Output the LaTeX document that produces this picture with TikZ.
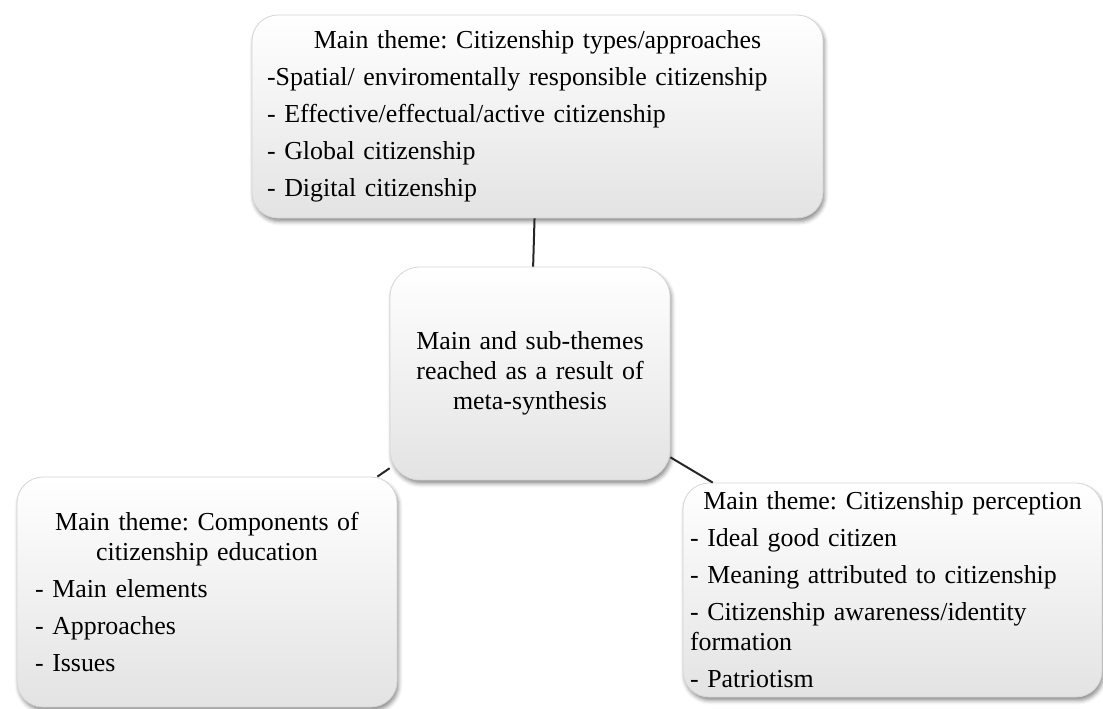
\documentclass[tikz,border=0pt]{standalone}
\usepackage{fontspec}
\setmainfont{Liberation Serif}
\usetikzlibrary{shadows.blur}
\frenchspacing

\begin{document}
\begin{tikzpicture}[x=0.5pt, y=-0.5pt,
		theme/.style={draw=black!16, rounded corners=13pt, top color=white, bottom color=black!11,
			blur shadow={shadow xshift=0.8pt, shadow yshift=-1.8pt, shadow blur radius=2pt, shadow opacity=45},
			font=\fontsize{12.95}{14.9}\selectfont, align=left, inner ysep=0pt,
			execute at begin node={\setlength{\parskip}{3.6pt}}},
		link/.style={line width=1pt, black!85}]
		% page frame
		\useasboundingbox (0,0) rectangle (1103,708);
		
		% the four theme boxes
		\node[theme, text width=270.5pt, inner xsep=7.5pt, minimum height=101.5pt] (types) at (537.5,116.5)
			{{\centering Main theme: Citizenship types/approaches\par}
			-Spatial/ enviromentally responsible citizenship\par
			- Effective/effectual/active citizenship\par
			- Global citizenship\par
			- Digital citizenship};
		\node[theme, align=center, rounded corners=15pt, text width=120pt, inner xsep=10pt, minimum height=106.5pt] (synth) at (530,373.5)
			{Main and sub-themes\\reached as a result of\\meta-synthesis};
		\node[theme, text width=172pt, inner xsep=9pt, minimum height=115pt] (components) at (207,592)
			{{\centering Main theme: Components of\\citizenship education\par}
			- Main elements\par
			- Approaches\par
			- Issues};
		\node[theme, text width=202.5pt, inner xsep=3.5pt, minimum height=107pt] (perception) at (892.5,590)
			{{\centering Main theme: Citizenship perception\par}
			- Ideal good citizen\par
			- Meaning attributed to citizenship\par
			- Citizenship awareness/identity\\formation\par
			- Patriotism};
		
		% connectors
		\draw[link] (types) -- (synth);
		\draw[link] (synth) -- (components);
		\draw[link] (synth) -- (perception);
\end{tikzpicture}
\end{document}
